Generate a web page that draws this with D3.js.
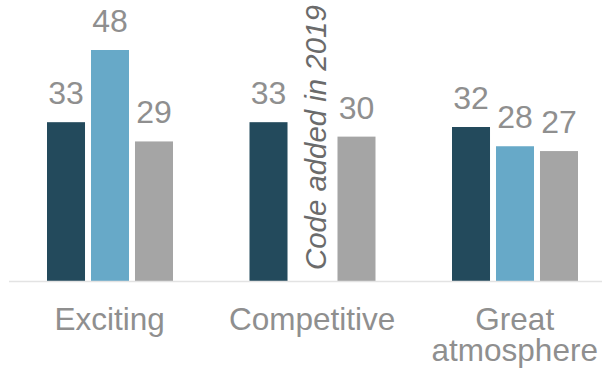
<!DOCTYPE html>
<html><head><meta charset="utf-8">
<script src="https://cdn.jsdelivr.net/npm/d3@7"></script>
<style>body{margin:0;background:#fff}svg{display:block}</style>
</head><body><svg id="c" width="602" height="376"></svg>
<script>
const categories = [["Exciting"], ["Competitive"], ["Great", "atmosphere"]];
const seriesNames = ["Series A", "Series B", "Series C"];
const seriesA = [33, 33, 32];
const seriesB = [48, null, 28];
const seriesC = [29, 30, 27];
const seriesColors = ["#234a5c", "#67a9c8", "#a5a5a5"];
const noteText = "Code added in 2019";

const svg = d3.select("#c");
const W = 602, H = 376;
const baseY = 281;
const keys = categories.map(c => c.join(" "));
const x0 = d3.scaleBand().domain(keys).range([8.5, 616]).paddingInner(0).paddingOuter(0);
const x1 = d3.scaleBand().domain(seriesNames).range([38.5, 164.5]).paddingInner(0.136).paddingOuter(0);
const y = d3.scaleLinear().domain([0, 48]).range([baseY, 50]);
const series = [seriesA, seriesB, seriesC];
const font = "'Liberation Sans', Arial, sans-serif";

keys.forEach((k, i) => {
  const g = svg.append("g").attr("transform", `translate(${x0(k)},0)`);
  series.forEach((s, j) => {
    const v = s[i];
    const bx = x1(seriesNames[j]);
    if (v == null) {
      g.append("text")
        .attr("transform", `translate(${bx + x1.bandwidth()/2 + 13},${baseY - 11}) rotate(-90)`)
        .attr("font-family", font).attr("font-style", "italic").attr("font-size", 29.4)
        .attr("fill", "#6b6b6b").text(noteText);
      return;
    }
    g.append("rect").attr("x", bx).attr("width", x1.bandwidth())
      .attr("y", y(v)).attr("height", baseY - y(v)).attr("fill", seriesColors[j]);
    g.append("text").attr("x", bx + x1.bandwidth()/2).attr("y", y(v) - 18)
      .attr("text-anchor", "middle").attr("font-family", font).attr("font-size", 32)
      .attr("fill", "#8f8f8f").text(v);
  });
  const t = g.append("text").attr("text-anchor", "middle").attr("font-family", font)
    .attr("font-size", 31.5).attr("fill", "#8f8f8f");
  categories[i].forEach((line, li) => {
    t.append("tspan").attr("x", x0.bandwidth()/2).attr("y", 330 + li * 30.5).text(line);
  });
});
svg.append("line").attr("x1", 9).attr("x2", W).attr("y1", baseY + 0.5).attr("y2", baseY + 0.5)
  .attr("stroke", "#e3e3e3").attr("stroke-width", 1.5);
</script></body></html>
